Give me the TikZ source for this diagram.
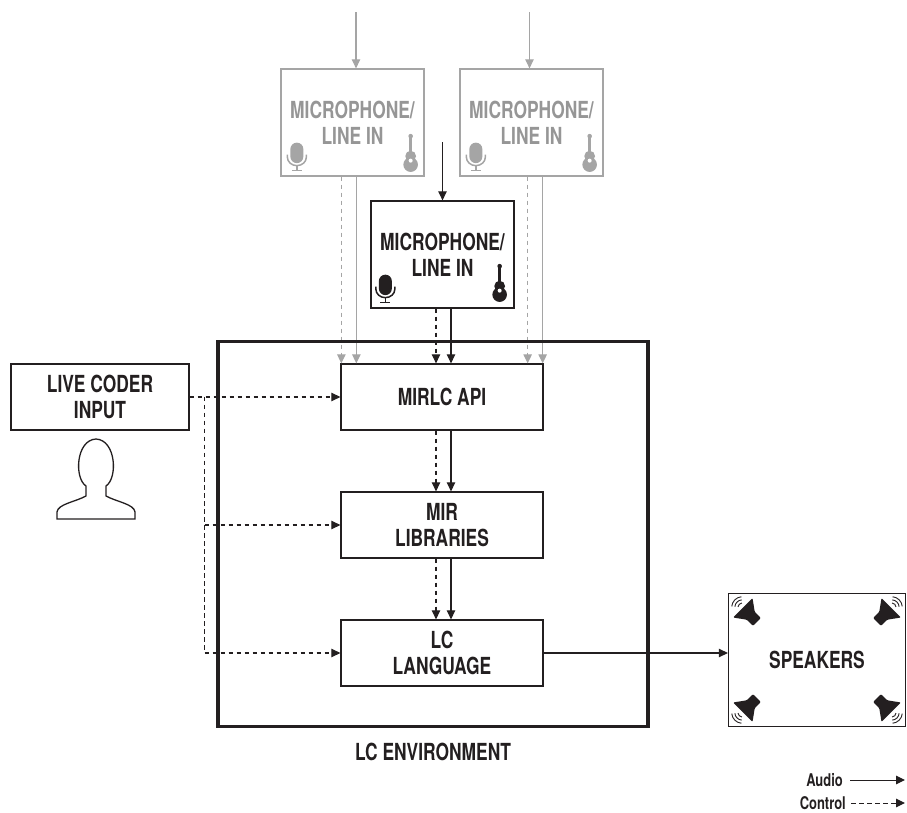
\documentclass[tikz,border=0pt]{standalone}
\usepackage{fontspec}
\setmainfont{TeX Gyre Heros}[FakeStretch=0.74]
\usetikzlibrary{arrows.meta,positioning}

\definecolor{ink}{RGB}{35,31,32}
\definecolor{mute}{RGB}{165,165,165}
\definecolor{mutetext}{RGB}{150,150,150}

\newcommand{\boxfont}[0]{\fontsize{23.5}{26}\selectfont\bfseries}
\newcommand{\legendfont}[0]{\fontsize{17.5}{20}\selectfont\bfseries}

\tikzstyle{aedge} = [-{Triangle[length=9pt,width=8.5pt]},draw=ink,line width=1.1pt]
\tikzstyle{cedge} = [aedge,dash pattern=on 4.5pt off 3.5pt]
\tikzstyle{gaedge} = [aedge,draw=mute]
\tikzstyle{gcedge} = [cedge,draw=mute]
\tikzstyle{block}=[
  rectangle,
  draw=ink,
  line width=1.3pt,
  align=center,
  anchor=center,
  inner sep=0pt,
  font=\boxfont,
  text=ink,
]
\tikzstyle{stage}=[
  block,
  minimum width=202pt,
  minimum height=66pt,
]
\tikzstyle{source}=[
  block,
  minimum width=143pt,
  minimum height=107pt,
]
\tikzstyle{ghost}=[
  source,
  draw=mute,
  text=mutetext,
]

% microphone: #1 foot of the stand, #2 colour
\newcommand{\micicon}[2]{%
  \begin{scope}[shift={#1}]
    \fill[#2] (-6.5,14) -- (-6.5,21.5) arc(180:0:6.5) -- (6.5,14) arc(0:-180:6.5) -- cycle;
    \draw[#2,line width=1.5pt] (-9.5,16) -- (-9.5,13.5) arc(180:360:9.5 and 8.5) -- (9.5,16);
    \draw[#2,line width=1.5pt] (0,5) -- (0,0) (-5,0) -- (5,0);
  \end{scope}}
% guitar: #1 bottom of the body, #2 colour
\newcommand{\guitaricon}[2]{%
  \begin{scope}[shift={#1}]
    \fill[#2] (0,7) circle (7.3) (0,15.5) circle (5.4);
    \fill[#2] (-1.3,18) rectangle (1.3,34);
    \fill[#2] (0,35.5) circle (2.3);
    \fill[white] (0,11) circle (2);
  \end{scope}}
% speaker: #1 centre, #2 direction it faces
\newcommand{\speakericon}[2]{%
  \begin{scope}[shift={#1},rotate=#2,scale=1.25]
    \fill[ink,rounded corners=1pt] (-8,-4.5) -- (-1,-4.5) -- (8,-11) -- (8,11) -- (-1,4.5) -- (-8,4.5) -- cycle;
    \foreach \r in {3.5,6,8.5}
      \draw[ink,line width=0.9pt] ([shift={(-40:\r)}]8.5,0) arc(-40:40:\r);
  \end{scope}}

\begin{document}
\begin{tikzpicture}[x=1pt,y=1pt]
  \useasboundingbox (0,0) rectangle (907,812);

  \node[stage] (mirlc) at (442,415) {MIRLC API};
  \node[stage] (mirlib) at ([yshift=-128pt] mirlc.center) {MIR\\LIBRARIES};
  \node[stage] (lclang) at ([yshift=-128pt] mirlib.center) {LC\\LANGUAGE};
  \node[block, minimum width=178pt, minimum height=66pt] (coder) at ([xshift=-342pt] mirlc.center) {LIVE CODER\\INPUT};
  \node[source] (mic) at ([xshift=0.5pt, yshift=142.5pt] mirlc.center) {MICROPHONE/\\LINE IN};
  \node[ghost] (micA) at ([xshift=-89.5pt, yshift=274.5pt] mirlc.center) {MICROPHONE/\\LINE IN};
  \node[ghost] (micB) at ([xshift=89.5pt, yshift=274.5pt] mirlc.center) {MICROPHONE/\\LINE IN};
  \node[block, minimum width=177pt, minimum height=133pt] (speakers) at ([xshift=375pt, yshift=-7pt] lclang.center) {SPEAKERS};

  % icons
  \micicon{([xshift=16.5pt, yshift=6pt] micA.south west)}{mute}
  \micicon{([xshift=16.5pt, yshift=6pt] micB.south west)}{mute}
  \micicon{([xshift=15pt, yshift=6pt] mic.south west)}{ink}
  \guitaricon{([xshift=-14pt, yshift=5pt] micA.south east)}{mute}
  \guitaricon{([xshift=-14pt, yshift=5pt] micB.south east)}{mute}
  \guitaricon{([xshift=-15pt, yshift=7pt] mic.south east)}{ink}
  \speakericon{([xshift=22pt, yshift=-22pt] speakers.north west)}{135}
  \speakericon{([xshift=-22pt, yshift=-22pt] speakers.north east)}{45}
  \speakericon{([xshift=22pt, yshift=22pt] speakers.south west)}{225}
  \speakericon{([xshift=-22pt, yshift=22pt] speakers.south east)}{315}

  % the live coder
  \draw[ink, line width=1.3pt] (57,293) -- (57,300) .. controls (58,308) and (75,310) .. (86,316) -- (86,326)
    .. controls (74,334) and (76,372) .. (96,373) .. controls (116,372) and (118,334) .. (106,326)
    -- (106,316) .. controls (117,310) and (134,308) .. (135,300) -- (135,293) -- cycle;

  % inputs
  \coordinate (feedA) at ([xshift=3.5pt, yshift=56pt] micA.north);
  \coordinate (feedB) at ([xshift=-2pt, yshift=56pt] micB.north);
  \coordinate (feedC) at ([yshift=58pt] mic.north);
  \draw[gaedge] (feedA) -- (feedA |- micA.north);
  \draw[gaedge] (feedB) -- (feedB |- micB.north);
  \draw[aedge] (feedC) -- (mic.north);

  \coordinate (inA1) at ([xshift=1pt] mirlc.north west);
  \coordinate (inA2) at ([xshift=16pt] mirlc.north west);
  \coordinate (inC1) at ([xshift=-6pt] mirlc.north);
  \coordinate (inC2) at ([xshift=9pt] mirlc.north);
  \coordinate (inB1) at ([xshift=-16pt] mirlc.north east);
  \coordinate (inB2) at ([xshift=-1pt] mirlc.north east);
  \draw[gcedge] (micA.south -| inA1) -- (inA1);
  \draw[gaedge] (micA.south -| inA2) -- (inA2);
  \draw[cedge] (mic.south -| inC1) -- (inC1);
  \draw[aedge] (mic.south -| inC2) -- (inC2);
  \draw[gcedge] (micB.south -| inB1) -- (inB1);
  \draw[gaedge] (micB.south -| inB2) -- (inB2);

  \draw[cedge] (mirlc.south -| inC1) -- (mirlib.north -| inC1);
  \draw[aedge] (mirlc.south -| inC2) -- (mirlib.north -| inC2);
  \draw[cedge] (mirlib.south -| inC1) -- (lclang.north -| inC1);
  \draw[aedge] (mirlib.south -| inC2) -- (lclang.north -| inC2);

  \coordinate (tap) at ([xshift=15pt] coder.east);
  \draw[cedge] (coder.east) -- (mirlc.west);
  \draw[cedge] (tap) |- (mirlib.west);
  \draw[cedge] (tap) |- (lclang.west);

  \draw[aedge] (lclang.east) -- (lclang.east -| speakers.west);

  % environment
  \node[draw=ink, line width=3.2pt, minimum width=430pt, minimum height=385pt, inner sep=0pt] (env) at (433,278) {};
  \node[font=\boxfont, text=ink] (envname) at (433,60) {LC ENVIRONMENT};

  % legend
  \node[font=\legendfont, text=ink, anchor=east, inner sep=0pt] (audio) at (843,32) {Audio};
  \node[font=\legendfont, text=ink, anchor=east, inner sep=0pt] (control) at (846,9) {Control};
  \coordinate (audioend) at (905,32);
  \coordinate (controlend) at (905,9);
  \draw[aedge, line width=1pt] ([xshift=7pt] audio.east) -- (audioend);
  \draw[cedge, line width=1pt] ([xshift=5pt] control.east) -- (controlend);
\end{tikzpicture}
\end{document}
